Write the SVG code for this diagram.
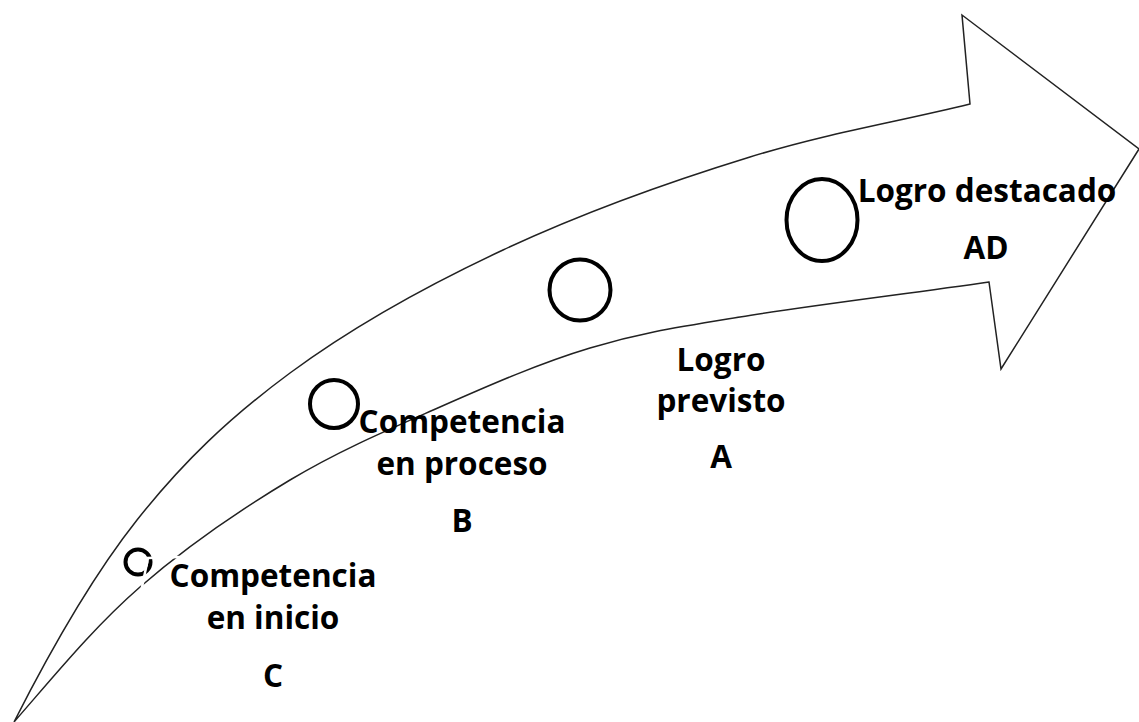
<svg xmlns="http://www.w3.org/2000/svg" width="1139" height="722" viewBox="0 0 1139 722">
<style>
.arrow{fill:#fff;stroke:#222;stroke-width:1.5;stroke-linejoin:miter}
.dot{fill:none;stroke:#000;stroke-width:4}
.gap{fill:none;stroke:#fff;stroke-width:2.5}
.lbl{font-family:"Open Sans","Liberation Sans",sans-serif;font-weight:bold;font-size:31.5px;fill:#000;text-anchor:middle}
</style>
<rect width="1139" height="722" fill="#fff"/>
<g id="connectors">
<path id="curved-arrow" class="arrow" d="M14,722 C48,655 91,578 137,520 C183,462 229,418 290,373 C351,328 426,286 503,250 C580,214 672,181 750,157 C828,133 897,122 970,104 L962,15 L1139,149 L1001,369 L989,282 C906,294 806,306 740,317 C673,328 640,333 590,348 C540,363 490,385 440,407 C390,429 340,450 290,480 C240,510 186,547 140,587 C94,627 55,675 14,722 Z"/>
</g>
<g id="node-C">
<circle class="dot" cx="138" cy="562" r="12.5"/>
<path class="gap" d="M141,592 L148,558 L180,557"/>
<text class="lbl" x="273" y="587">Competencia</text>
<text class="lbl" x="273" y="629">en inicio</text>
<text class="lbl" x="273" y="687">C</text>
</g>
<g id="node-B">
<circle class="dot" cx="334" cy="404" r="24"/>
<text class="lbl" x="462" y="433">Competencia</text>
<text class="lbl" x="462" y="475">en proceso</text>
<text class="lbl" x="462" y="532">B</text>
</g>
<g id="node-A">
<circle class="dot" cx="580" cy="290" r="30.5"/>
<text class="lbl" x="721" y="371">Logro</text>
<text class="lbl" x="721" y="412">previsto</text>
<text class="lbl" x="721" y="468">A</text>
</g>
<g id="node-AD">
<ellipse class="dot" cx="822" cy="220" rx="35.5" ry="41"/>
<text class="lbl" x="987" y="202">Logro destacado</text>
<text class="lbl" x="986" y="259">AD</text>
</g>
</svg>
